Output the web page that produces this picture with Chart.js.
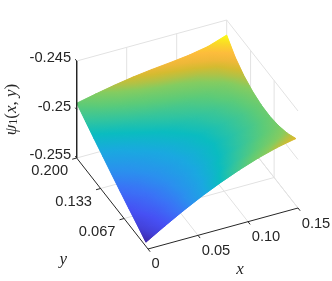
<!DOCTYPE html>
<html>
<head>
<meta charset="utf-8">
<style>
  html, body { margin: 0; padding: 0; background: #fff; }
  canvas { display: block; }
</style>
<script src="https://cdn.jsdelivr.net/npm/chart.js@4"></script>
</head>
<body>
<canvas id="surfaceChart" width="332" height="281"></canvas>
<script>
// ─── Data ────────────────────────────────────────────────────
const xValues = [0, 0.01875, 0.0375, 0.05625, 0.075, 0.09375, 0.1125, 0.13125, 0.15];
const yValues = [0.006, 0.030, 0.055, 0.079, 0.103, 0.127, 0.152, 0.176, 0.2];
// one row per yValue, one column per xValue
const psiValues = [
  [-0.25459, -0.25346, -0.25239, -0.25141, -0.25053, -0.24975, -0.24907, -0.24852, -0.24812],
  [-0.25395, -0.25311, -0.25229, -0.25153, -0.25084, -0.25021, -0.24964, -0.24913, -0.24870],
  [-0.25332, -0.25270, -0.25209, -0.25151, -0.25098, -0.25049, -0.25001, -0.24955, -0.24908],
  [-0.25269, -0.25225, -0.25180, -0.25136, -0.25096, -0.25057, -0.25017, -0.24975, -0.24925],
  [-0.25205, -0.25173, -0.25139, -0.25107, -0.25076, -0.25046, -0.25013, -0.24974, -0.24921],
  [-0.25139, -0.25114, -0.25087, -0.25061, -0.25037, -0.25014, -0.24987, -0.24950, -0.24895],
  [-0.25072, -0.25048, -0.25023, -0.25000, -0.24980, -0.24962, -0.24938, -0.24904, -0.24846],
  [-0.25004, -0.24976, -0.24948, -0.24924, -0.24904, -0.24887, -0.24866, -0.24832, -0.24772],
  [-0.24935, -0.24894, -0.24856, -0.24824, -0.24799, -0.24779, -0.24756, -0.24720, -0.24655]
];
const xTicks = [0, 0.05, 0.10, 0.15];
const xTickLabels = ['0', '0.05', '0.10', '0.15'];
const yTicks = [0.067, 0.133, 0.2];
const yTickLabels = ['0.067', '0.133', '0.200'];
const zTicks = [-0.255, -0.25, -0.245];
const zTickLabels = ['-0.255', '-0.25', '-0.245'];

// colormap, as seen on the surface
const colorStops = [
  [0, '#3e26a8'], [0.07, '#4340d8'], [0.15, '#4650f4'], [0.25, '#3a72f6'],
  [0.33, '#2a90ee'], [0.42, '#1aa8e0'], [0.5, '#0abcc0'], [0.563, '#30c4a0'],
  [0.64, '#5ccb78'], [0.71, '#84cc60'], [0.75, '#b0c246'], [0.79, '#d4bb30'],
  [0.83, '#eeb838'], [0.88, '#fdbc3c'], [0.94, '#fad828'], [1, '#f9fb15']
];

// ─── Axes box + view ─────────────────────────────────────────
const X_MAX = 0.15, Y_MAX = 0.2, Z_MIN = -0.255, Z_MAX = -0.245;
const TEXT = '#262626', GRID = '#e2e2e2';
const FONT = '14.7px "Liberation Sans", Arial, sans-serif';

// orthographic view onto the plane the hidden scales cover
function project(x, y, z) {
  const a = x / X_MAX, b = y / Y_MAX, c = (z - Z_MIN) / (Z_MAX - Z_MIN);
  return { x: 148 + 150 * a - 71.3 * b, y: 249 - 41 * a - 91 * b - 97 * c };
}

const lineSet = (pts, color, width, order) => ({
  data: pts.map(p => project(p[0], p[1], p[2])),
  showLine: true, pointRadius: 0, tension: 0, fill: false,
  borderColor: color, borderWidth: width, order
});

const datasets = [];

// surface vertices: the plugin below shades between them
const surfacePoints = [];
yValues.forEach((y, j) => xValues.forEach((x, i) => surfacePoints.push(project(x, y, psiValues[j][i]))));
datasets.push({ data: surfacePoints, showLine: false, pointRadius: 0, order: 2, label: 'surface' });
const SURFACE = 0;

// walls and floor
const xGrid = xTicks.slice(1), yGrid = yTicks;
xGrid.forEach(x => {
  datasets.push(lineSet([[x, 0, Z_MIN], [x, Y_MAX, Z_MIN], [x, Y_MAX, Z_MAX]], GRID, 1, 3));
});
yGrid.slice(0, 2).forEach(y => {
  datasets.push(lineSet([[0, y, Z_MIN], [X_MAX, y, Z_MIN], [X_MAX, y, Z_MAX]], GRID, 1, 3));
});
datasets.push(lineSet([[0, Y_MAX, Z_MIN], [X_MAX, Y_MAX, Z_MIN], [X_MAX, 0, Z_MIN]], GRID, 1, 3));
zTicks.slice(1).forEach(z => {
  datasets.push(lineSet([[0, Y_MAX, z], [X_MAX, Y_MAX, z], [X_MAX, 0, z]], GRID, 1, 3));
});

// dark axis lines and ticks
datasets.push(lineSet([[0, Y_MAX, Z_MAX], [0, Y_MAX, Z_MIN], [0, 0, Z_MIN], [X_MAX, 0, Z_MIN]], TEXT, 1, 1));
xTicks.forEach(x => datasets.push(lineSet([[x, 0, Z_MIN], [x, -0.006, Z_MIN]], TEXT, 1, 1)));
yTicks.forEach(y => datasets.push(lineSet([[0, y, Z_MIN], [-0.0045, y, Z_MIN]], TEXT, 1, 1)));
zTicks.forEach(z => datasets.push(lineSet([[0, Y_MAX, z], [0, Y_MAX + 0.004, z]], TEXT, 1, 1)));

// ─── Surface shading ─────────────────────────────────────────
const flat = psiValues.flat();
const psiLo = Math.min(...flat), psiHi = Math.max(...flat);
const level = v => (v - psiLo) / (psiHi - psiLo);

function shadeTriangle(ctx, p0, p1, p2, c0, c1, c2, edge) {
  const det = (p1.x - p0.x) * (p2.y - p0.y) - (p2.x - p0.x) * (p1.y - p0.y);
  const gx = ((c1 - c0) * (p2.y - p0.y) - (c2 - c0) * (p1.y - p0.y)) / det;
  const gy = ((c2 - c0) * (p1.x - p0.x) - (c1 - c0) * (p2.x - p0.x)) / det;
  const n = gx * gx + gy * gy;
  const g = ctx.createLinearGradient(
    p0.x - gx * c0 / n, p0.y - gy * c0 / n,
    p0.x + gx * (1 - c0) / n, p0.y + gy * (1 - c0) / n
  );
  colorStops.forEach(s => g.addColorStop(s[0], s[1]));
  ctx.beginPath();
  ctx.moveTo(p0.x, p0.y);
  ctx.lineTo(p1.x, p1.y);
  ctx.lineTo(p2.x, p2.y);
  ctx.closePath();
  ctx.fillStyle = g;
  ctx.fill();
  if (edge) {
    ctx.strokeStyle = g;
    ctx.stroke();
  }
}

const surfacePlugin = {
  id: 'surface',
  afterDatasetDraw(chart, args) {
    if (args.index !== SURFACE) return;
    const { ctx } = chart;
    const pts = chart.getDatasetMeta(SURFACE).data;
    const nx = xValues.length;
    ctx.save();
    ctx.lineWidth = 0.9;
    ctx.lineJoin = 'round';
    // first pass closes the seams, second lays the clean colours on top
    [true, false].forEach(edge => {
      for (let j = yValues.length - 2; j >= 0; j--) {
        for (let i = 0; i < nx - 1; i++) {
          const a = j * nx + i, b = a + 1, c = a + nx, d = c + 1;
          const la = level(psiValues[j][i]), lb = level(psiValues[j][i + 1]);
          const lc = level(psiValues[j + 1][i]), ld = level(psiValues[j + 1][i + 1]);
          shadeTriangle(ctx, pts[c], pts[d], pts[b], lc, ld, lb, edge);
          shadeTriangle(ctx, pts[c], pts[b], pts[a], lc, lb, la, edge);
        }
      }
    });
    ctx.restore();
  }
};

// ─── Tick labels + axis titles ───────────────────────────────
const labelPlugin = {
  id: 'labels',
  afterDraw(chart) {
    const { ctx, scales } = chart;
    const at = p => ({ x: scales.x.getPixelForValue(p.x), y: scales.y.getPixelForValue(p.y) });
    ctx.save();
    ctx.fillStyle = TEXT;
    ctx.font = FONT;
    ctx.textBaseline = 'middle';

    ctx.textAlign = 'right';
    zTicks.forEach((z, i) => {
      const p = at(project(0, Y_MAX, z));
      ctx.fillText(zTickLabels[i], p.x - 5.5, p.y - 3);
    });
    ctx.textAlign = 'center';
    yTicks.forEach((y, i) => {
      const p = at(project(0, y, Z_MIN));
      ctx.fillText(yTickLabels[i], p.x - 27, p.y + 13);
    });
    xTicks.forEach((x, i) => {
      const p = at(project(x, 0, Z_MIN));
      if (i === 0) ctx.fillText(xTickLabels[i], p.x + 7.5, p.y + 15);
      else ctx.fillText(xTickLabels[i], p.x + 18, p.y + 15.5);
    });

    // axis titles
    const italic = '17px "Liberation Serif", serif';
    ctx.font = 'italic ' + italic;
    const xTitle = at(project(X_MAX / 2, 0, Z_MIN));
    ctx.fillText('x', xTitle.x + 17, xTitle.y + 41);
    const yTitle = at(project(0, Y_MAX / 2, Z_MIN));
    ctx.fillText('y', yTitle.x - 49, yTitle.y + 56);

    // z title, rotated, built from pieces for the subscript
    const zTitle = at(project(0, Y_MAX, (Z_MIN + Z_MAX) / 2));
    ctx.translate(zTitle.x - 65.5, zTitle.y);
    ctx.rotate(-Math.PI / 2);
    const parts = [
      ['ψ', 'italic ' + italic, 0], ['1', '12px "Liberation Serif", serif', 3],
      ['(', italic, 0], ['x', 'italic ' + italic, 0], [', ', italic, 0],
      ['y', 'italic ' + italic, 0], [')', italic, 0]
    ];
    let w = 0;
    parts.forEach(p => { ctx.font = p[1]; w += ctx.measureText(p[0]).width; });
    let cx = -w / 2;
    ctx.textAlign = 'left';
    parts.forEach(p => {
      ctx.font = p[1];
      ctx.fillText(p[0], cx, p[2]);
      cx += ctx.measureText(p[0]).width;
    });
    ctx.restore();
  }
};

new Chart(document.getElementById('surfaceChart'), {
  type: 'scatter',
  data: { datasets },
  options: {
    responsive: false,
    animation: false,
    layout: { padding: 0 },
    clip: false,
    plugins: { legend: { display: false }, tooltip: { enabled: false } },
    scales: {
      x: { type: 'linear', display: false, min: 0, max: 332 },
      y: { type: 'linear', display: false, min: 0, max: 281, reverse: true }
    }
  },
  plugins: [surfacePlugin, labelPlugin]
});
</script>
</body>
</html>
